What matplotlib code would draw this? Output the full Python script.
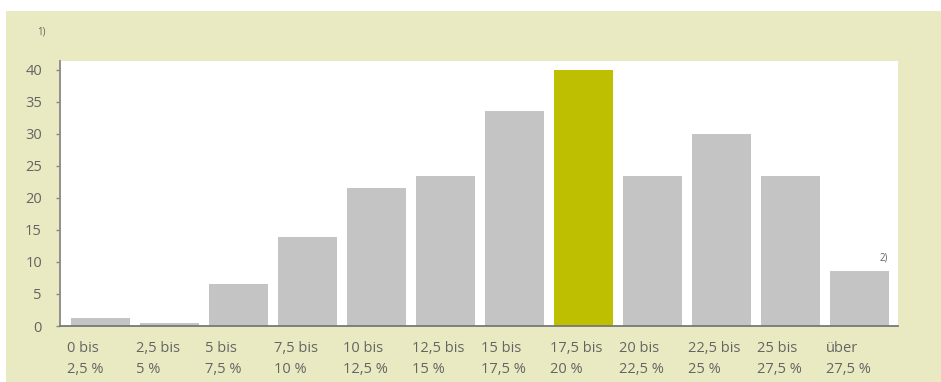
import numpy as np
import matplotlib.pyplot as plt
from matplotlib.patches import Rectangle
from matplotlib.transforms import blended_transform_factory

plt.rcParams['font.family'] = ['Open Sans', 'DejaVu Sans']

labels = ["0 bis\n2,5 %", "2,5 bis\n5 %", "5 bis\n7,5 %", "7,5 bis\n10 %",
          "10 bis\n12,5 %", "12,5 bis\n15 %", "15 bis\n17,5 %", "17,5 bis\n20 %",
          "20 bis\n22,5 %", "22,5 bis\n25 %", "25 bis\n27,5 %", "über\n27,5 %"]
values = [1.25, 0.5, 6.5, 13.9, 21.6, 23.4, 33.6, 40.0, 23.4, 30.0, 23.4, 8.6]
highlight = 7
yticks = [0, 5, 10, 15, 20, 25, 30, 35, 40]

beige = '#e9eac1'
grey_bar = '#c4c4c4'
green = '#bebf00'
txt = '#646464'

W, H = 941, 382
fig = plt.figure(figsize=(W/100, H/100), dpi=100, facecolor='white')
# beige panel behind everything
fig.patches.append(Rectangle((6/W, 0), 1 - 6/W, (H-11)/H, transform=fig.transFigure,
                             facecolor=beige, edgecolor='none', zorder=-5))

ax = fig.add_axes([60/W, (H-326)/H, 838/W, 265/H])
ax.set_zorder(2)
ax.set_facecolor('white')
x = np.arange(len(values))
colors = [green if i == highlight else grey_bar for i in x]
bw = 0.855
ax.bar(x, values, width=bw, color=colors, zorder=2)

ax.set_xlim(-0.587, 11.558)
ax.set_ylim(0, 41.4)
ax.set_yticks(yticks)
ax.set_yticklabels([str(v) for v in yticks], fontsize=10.5, color=txt)
ax.tick_params(axis='y', length=3, width=1, color='#888888', pad=10)
ax.set_xticks([])
for s in ['top', 'right']:
    ax.spines[s].set_visible(False)
ax.spines['left'].set_color('#888888')
ax.spines['left'].set_linewidth(1.3)
ax.spines['bottom'].set_color('#777777')
ax.spines['bottom'].set_linewidth(1.3)

tr = blended_transform_factory(ax.transData, ax.transAxes)
for i, lab in enumerate(labels):
    ax.text(i - bw/2 - 0.055, -0.058, lab, transform=tr, ha='left', va='top',
            fontsize=10.5, color=txt, linespacing=1.5)

fig.text(37/W, 1 - 32/H, "1)", fontsize=7, color=txt, va='center')
ax.text(11 + bw/2 - 0.13, values[-1] + 1.2, "2)", fontsize=7, color=txt,
        ha='left', va='bottom')

fig.savefig("out.png", dpi=100, facecolor='white')
